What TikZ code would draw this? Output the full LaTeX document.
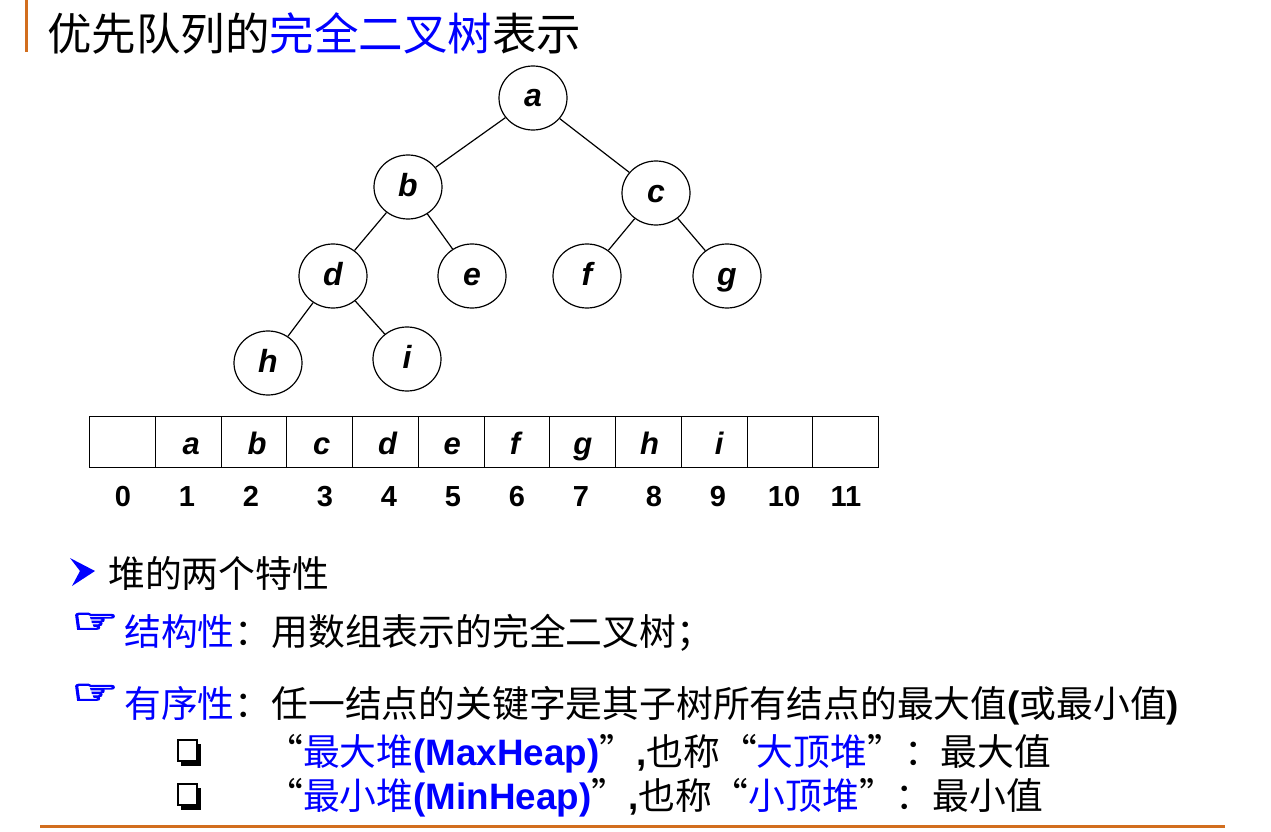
\documentclass[tikz,border=0pt]{standalone}
\usepackage{fontspec}
\setmainfont{Liberation Sans}
\newfontfamily\cjk{Noto Sans CJK SC}
\newfontfamily\handf[FakeBold=4]{DejaVu Sans}
\usetikzlibrary{shapes.geometric}
\definecolor{deco}{RGB}{210,110,30}
\definecolor{hblue}{RGB}{0,0,255}
\tikzset{
  tnode/.style={ellipse,draw=black,line width=1.2pt,minimum width=68pt,minimum height=64pt,inner sep=0pt,
    text height=18pt,text depth=0pt,font=\fontsize{32}{34}\selectfont\bfseries\itshape},
  tedge/.style={line width=1.2pt,black},
  cellbox/.style={rectangle,draw=black,line width=1.2pt,minimum width=65.75pt,minimum height=51pt,inner sep=0pt,anchor=west},
  celltxt/.style={inner sep=0pt,text height=18pt,text depth=0pt,font=\fontsize{31}{33}\selectfont\bfseries\itshape},
  idxtxt/.style={inner sep=0pt,text height=20pt,text depth=0pt,font=\fontsize{29}{31}\selectfont\bfseries},
  body/.style={inner sep=0pt,anchor=west,font=\fontsize{36.8}{40}\selectfont\cjk},
  hand/.style={inner sep=0pt,text=hblue,font=\fontsize{40}{42}\selectfont\handf},
  shadowbox/.style={draw=black,line width=1.5pt,fill=white},
}
\newcommand{\ar}{\fontspec{Liberation Sans}\bfseries}
\begin{document}
\begin{tikzpicture}[x=1pt,y=-1pt]
\useasboundingbox (0,0) rectangle (1271,832);
\fill[white] (0,0) rectangle (1271,832);
% decorations
\draw[deco,line width=3pt] (26,0) -- (26,52);
\draw[deco,line width=3pt] (40,826) -- (1225,826);
% title
\node[inner sep=0pt,anchor=west,font=\fontsize{44.5}{48}\selectfont\cjk] (title) at (47,33)
  {优先队列的\textcolor{hblue}{完全二叉树}表示};
% tree
\node[tnode] (a) at (533,98) {a};
\node[tnode] (b) at (408,187) {b};
\node[tnode] (c) at (656,193) {c};
\node[tnode] (d) at (333,276) {d};
\node[tnode] (e) at (472,276) {e};
\node[tnode] (f) at (587,276) {f};
\node[tnode] (g) at (727,276) {g};
\node[tnode] (h) at (268,363) {h};
\node[tnode] (i) at (407,359) {i};
\draw[tedge] (a) -- (b);
\draw[tedge] (a) -- (c);
\draw[tedge] (b) -- (d);
\draw[tedge] (b) -- (e);
\draw[tedge] (c) -- (f);
\draw[tedge] (c) -- (g);
\draw[tedge] (d) -- (h);
\draw[tedge] (d) -- (i);
% array
\foreach \k in {0,...,11} {
  \node[cellbox] (cell\k) at ({89+65.75*\k},442) {};
}
\foreach \k/\t/\dx in {1/a/3,2/b/3,3/c/2,4/d/2,5/e/1,6/f/-2,7/g/0,8/h/1,9/i/5} {
  \node[celltxt] (v\k) at ([xshift=\dx pt,yshift=-3pt]cell\k.center) {\t};
}
\foreach \k/\x in {0/123,1/187,2/251,3/325,4/389,5/453,6/517,7/581,8/654,9/718,10/784,11/846} {
  \node[idxtxt] (idx\k) at (\x,496) {\k};
}
% bullet 1: arrowhead
\fill[hblue] (70,558) -- (95,571) -- (72,586) -- (80,571) -- cycle;
\node[body] (t1) at (108,573) {堆的两个特性};
% hands
\node[hand] (b2) at (95,623) {\scalebox{1.3}[0.85]{☞}};
\node[body] (t2) at (124,633) {\textcolor{hblue}{结构性}：用数组表示的完全二叉树；};
\node[hand] (b3) at (95,694) {\scalebox{1.3}[0.85]{☞}};
\node[body] (t3) at (124,706) {\textcolor{hblue}{有序性}：任一结点的关键字是其子树所有结点的最大值{\ar(}或最小值{\ar)}};
% shadowed squares
\fill[black] (181,744) rectangle (201,766);
\draw[shadowbox] (178,740) rectangle (197,761);
\node[body] (t4) at (266,754) {“\textcolor{hblue}{最大堆{\ar(MaxHeap)}}”{\ar,}也称“\textcolor{hblue}{大顶堆}”：最大值};
\fill[black] (181,788) rectangle (201,810);
\draw[shadowbox] (178,784) rectangle (197,805);
\node[body] (t5) at (266,798) {“\textcolor{hblue}{最小堆{\ar(MinHeap)}}”{\ar,}也称“\textcolor{hblue}{小顶堆}”：最小值};
\end{tikzpicture}
\end{document}
